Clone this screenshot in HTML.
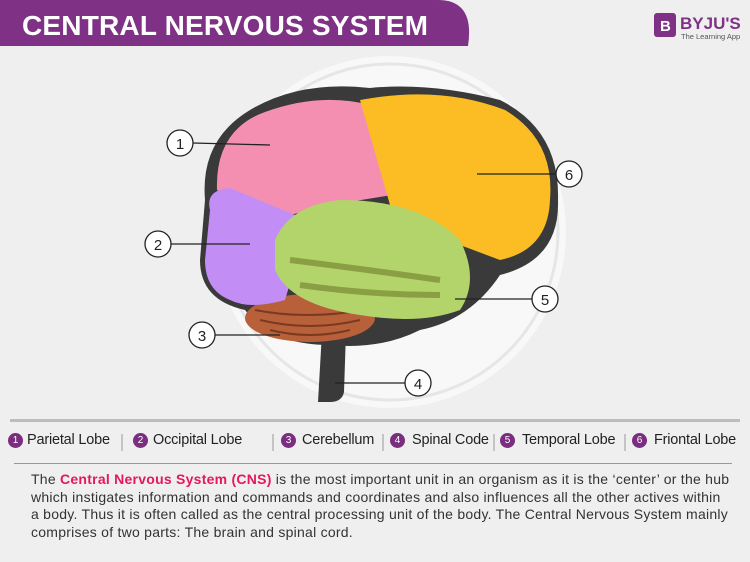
<!DOCTYPE html>
<html><head><meta charset="utf-8"><style>
body{margin:0;width:750px;height:562px;background:#efefef;font-family:"Liberation Sans",sans-serif;position:relative;overflow:hidden}
.t{position:absolute;left:0;top:0}
.li{position:absolute;top:432px;font-size:14.5px;color:#222;white-space:nowrap;letter-spacing:-0.2px}
.n{position:absolute;top:433px;width:15px;height:15px;border-radius:50%;background:#7b2d7f;color:#fff;font-size:10px;text-align:center;line-height:15px}
.para{position:absolute;left:31px;top:471px;width:740px;white-space:nowrap;font-size:14px;line-height:17.5px;color:#333;letter-spacing:0.25px}
.para b{color:#e3185f}
</style></head><body>
<svg class="t" width="750" height="562" viewBox="0 0 750 562">
<path d="M0 0H438Q475 0 468 46L462 46H0Z" fill="#7f3285"/>
<text x="22" y="35" font-family="Liberation Sans" font-weight="bold" font-size="28" fill="#fff" textLength="406">CENTRAL NERVOUS SYSTEM</text>
<rect x="654" y="13" width="22" height="24" rx="3" fill="#7f3285"/>
<text x="660" y="31" font-size="15" fill="#fff" font-weight="bold">B</text>
<text x="680" y="29" font-size="17" font-weight="bold" fill="#7f3285">BYJU'S</text>
<text x="681" y="39" font-size="7.5" fill="#555">The Learning App</text>
<circle cx="390" cy="232" r="176" fill="#f8f8f8"/>
<circle cx="390" cy="232" r="168" fill="none" stroke="#e6e6e6" stroke-width="3"/>
<path d="M322 332h24l-2 60q-2 10-14 10h-12z" fill="#3a3a3a"/>
<path d="M205 200Q200 140 250 110Q300 80 370 88Q430 82 500 100Q560 130 558 200Q560 260 500 275Q470 320 420 330Q380 350 330 345Q270 345 245 310Q200 300 200 260Z" fill="#3a3a3a"/>
<ellipse cx="310" cy="318" rx="65" ry="24" fill="#b8603a"/>
<path d="M255 310q50 10 110 0M260 320q50 12 100 0M270 330q40 10 80 0" stroke="#7a3a22" stroke-width="2" fill="none"/>
<path d="M217 190Q215 130 265 112Q320 92 370 105L392 195L330 205L270 220Z" fill="#f48fb1"/>
<path d="M360 100Q440 85 505 110Q555 140 550 200Q548 250 500 260L460 245L390 205Z" fill="#fbbd23"/>
<path d="M210 210Q205 190 230 188L295 215L300 250L285 300Q250 310 230 300Q205 290 205 260Z" fill="#c28ef5"/>
<path d="M275 240Q290 205 340 200Q420 200 460 240Q480 280 460 310Q420 325 360 315Q290 305 275 270Z" fill="#b3d46b"/>
<path d="M290 260q80 10 150 20M300 285q70 10 140 10" stroke="#8a9e44" stroke-width="6" fill="none"/>
<g stroke="#222" stroke-width="1.3" fill="none">
<line x1="193" y1="143" x2="270" y2="145"/><line x1="171" y1="244" x2="250" y2="244"/>
<line x1="215" y1="335" x2="280" y2="335"/><line x1="405" y1="383" x2="335" y2="383"/>
<line x1="532" y1="299" x2="455" y2="299"/><line x1="556" y1="174" x2="477" y2="174"/>
</g>
<g fill="#fff" stroke="#222" stroke-width="1.3">
<circle cx="180" cy="143" r="13"/><circle cx="158" cy="244" r="13"/><circle cx="202" cy="335" r="13"/>
<circle cx="418" cy="383" r="13"/><circle cx="545" cy="299" r="13"/><circle cx="569" cy="174" r="13"/>
</g>
<g font-size="15" text-anchor="middle" fill="#222">
<text x="180" y="149">1</text><text x="158" y="250">2</text><text x="202" y="341">3</text>
<text x="418" y="389">4</text><text x="545" y="305">5</text><text x="569" y="180">6</text>
</g>
<rect x="10" y="419" width="730" height="3" fill="#bdbdbd"/>
<g stroke="#999"><line x1="122" y1="434" x2="122" y2="451"/><line x1="273" y1="434" x2="273" y2="451"/><line x1="383" y1="434" x2="383" y2="451"/><line x1="494" y1="434" x2="494" y2="451"/><line x1="625" y1="434" x2="625" y2="451"/></g>
<rect x="14" y="463" width="718" height="1" fill="#999"/>
</svg>
<div class="n" style="left:8px">1</div><div class="li" style="left:27px">Parietal Lobe</div>
<div class="n" style="left:133px">2</div><div class="li" style="left:153px">Occipital Lobe</div>
<div class="n" style="left:281px">3</div><div class="li" style="left:302px">Cerebellum</div>
<div class="n" style="left:390px">4</div><div class="li" style="left:412px">Spinal Code</div>
<div class="n" style="left:500px">5</div><div class="li" style="left:522px">Temporal Lobe</div>
<div class="n" style="left:632px">6</div><div class="li" style="left:654px">Friontal Lobe</div>
<div class="para">The <b>Central Nervous System (CNS)</b> is the most important unit in an organism as it is the ‘center’ or the hub<br>which instigates information and commands and coordinates and also influences all the other actives within<br>a body. Thus it is often called as the central processing unit of the body. The Central Nervous System mainly<br>comprises of two parts: The brain and spinal cord.</div>
</body></html>
